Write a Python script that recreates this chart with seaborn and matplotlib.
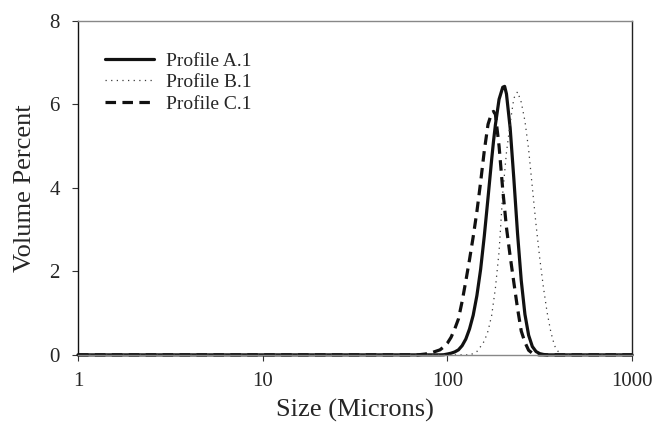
import numpy as np
import pandas as pd
import matplotlib
matplotlib.use("Agg")
import matplotlib.pyplot as plt
import seaborn as sns

# Particle size bins (microns)
sizes = [1.0, 2.0, 5.0, 10.0, 20.0, 50.0,
         69.2, 72.4, 75.9, 79.4, 83.2, 87.1, 91.2, 95.5, 100.0, 104.7,
         109.6, 114.8, 120.2, 125.9, 131.8, 138.0, 144.5, 151.4, 158.5, 166.0,
         173.8, 177.8, 182.0, 190.5, 199.5, 204.2, 208.9, 218.8, 229.1, 239.9,
         251.2, 263.0, 275.4, 288.4, 302.0, 316.2, 331.1, 346.7, 363.1, 380.2,
         398.1, 416.9, 436.5, 457.1, 500.0, 700.0, 1000.0]

# Volume percent per bin
profile_a = [0, 0, 0, 0, 0, 0,
             0, 0, 0, 0, 0, 0, 0, 0.003, 0.02, 0.04,
             0.07, 0.12, 0.22, 0.38, 0.62, 0.95, 1.42, 2.05, 2.85, 3.76,
             4.69, 5.12, 5.51, 6.12, 6.41, 6.43, 6.25, 5.43, 4.21, 2.90,
             1.78, 0.97, 0.47, 0.20, 0.08, 0.03, 0.01, 0, 0, 0,
             0, 0, 0, 0, 0, 0, 0]

profile_b = [0, 0, 0, 0, 0, 0,
             0, 0, 0, 0, 0, 0, 0, 0, 0, 0,
             0, 0, 0, 0, 0, 0.03, 0.08, 0.20, 0.33, 0.57,
             0.95, 1.27, 1.60, 2.47, 3.88, 4.37, 4.85, 5.55, 6.15, 6.30,
             6.05, 5.60, 4.92, 4.01, 3.12, 2.32, 1.62, 1.02, 0.55, 0.22,
             0.08, 0.02, 0, 0, 0, 0, 0]

profile_c = [0, 0, 0, 0, 0, 0,
             0, 0.01, 0.02, 0.04, 0.06, 0.09, 0.12, 0.19, 0.28, 0.42,
             0.62, 0.86, 1.28, 1.77, 2.28, 2.83, 3.43, 4.14, 4.89, 5.52,
             5.80, 5.83, 5.76, 5.00, 3.95, 3.50, 3.05, 2.36, 1.73, 1.11,
             0.57, 0.30, 0.11, 0.04, 0.01, 0, 0, 0, 0, 0,
             0, 0, 0, 0, 0, 0, 0]

labels = ["Profile A.1", "Profile B.1", "Profile C.1"]
series = [profile_a, profile_b, profile_c]

sns.set_style("ticks")
plt.rcParams["font.family"] = ["Liberation Serif", "DejaVu Serif"]

fig = plt.figure(figsize=(6.55, 4.25), dpi=100)
ax = fig.add_axes([0.119, 0.165, 0.846, 0.786])

styles = [
    dict(color="#111111", linewidth=2.3, linestyle="-"),
    dict(color="#3a3a3a", linewidth=0.9, linestyle=(0, (1, 3.5))),
    dict(color="#111111", linewidth=2.3, linestyle=(0, (3.3, 2.0))),
]

for lab, vals, st in zip(labels, series, styles):
    df = pd.DataFrame({"size": sizes, "vol": vals})
    sns.lineplot(data=df, x="size", y="vol", ax=ax, label=lab,
                 clip_on=False, **st)

ax.set_xscale("log")
ax.set_xlim(1, 1000)
ax.set_ylim(0, 8)
ax.set_xticks([1, 10, 100, 1000])
ax.set_xticklabels(["1", "10", "100", "1000"])
ax.xaxis.set_minor_locator(matplotlib.ticker.NullLocator())
ax.set_yticks([0, 2, 4, 6, 8])

ax.tick_params(axis="both", labelsize=15, length=4, width=0.8,
               color="#333333")
ax.tick_params(axis="y", pad=9)
ax.tick_params(axis="x", pad=8)
ax.set_xlabel("Size (Microns)", fontsize=19, labelpad=6)
ax.set_ylabel("Volume Percent", fontsize=19, labelpad=10)

for side in ["top", "right", "left", "bottom"]:
    ax.spines[side].set_visible(True)
    ax.spines[side].set_linewidth(1.0)
ax.spines["left"].set_color("#111111")
ax.spines["right"].set_color("#222222")
ax.spines["top"].set_color("#888888")
ax.spines["bottom"].set_color("#888888")

leg = ax.legend(loc="upper left", bbox_to_anchor=(0.035, 0.93), frameon=False,
                fontsize=14, handlelength=2.5, handletextpad=0.65,
                labelspacing=0.2, borderaxespad=0)

fig.savefig("out.png", dpi=100, facecolor="white")
